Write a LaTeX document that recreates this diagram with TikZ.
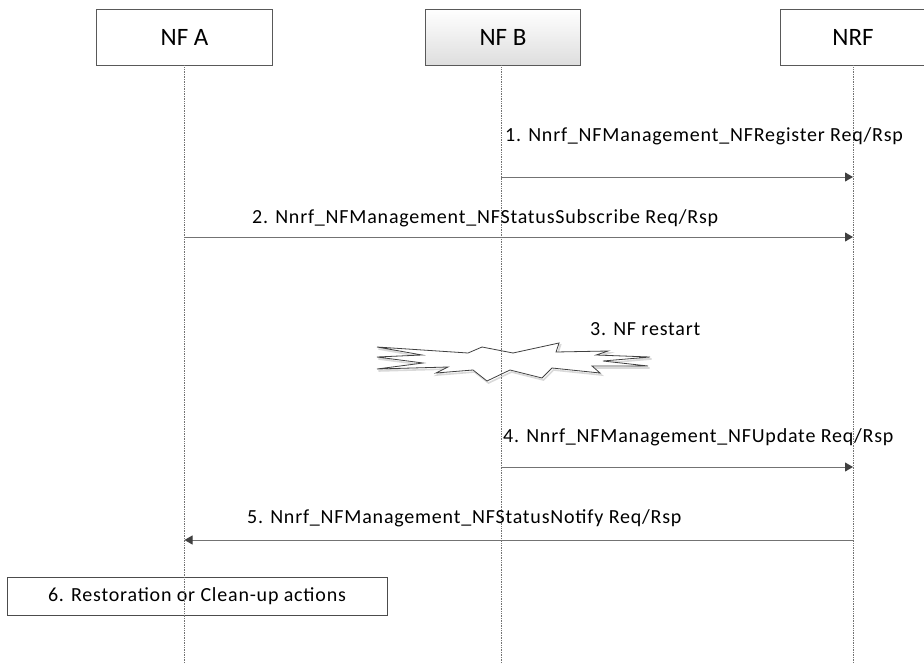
\documentclass[tikz,border=0pt]{standalone}
\usepackage{fontspec}
\setmainfont{Carlito}
\newfontfamily\lblfont[LetterSpace=4]{Carlito}
\usetikzlibrary{arrows.meta,positioning,shadows}
\begin{document}
\begin{tikzpicture}[x=1pt,y=-1pt,
	ent/.style={draw=black!65,fill=white,line width=.8pt,minimum height=56pt,
		drop shadow={shadow xshift=.6pt,shadow yshift=-1.4pt,fill=black!45,opacity=1},
		font=\fontsize{25}{30}\selectfont},
	life/.style={densely dotted,black!55,line width=.7pt},
	msg/.style={black!55,line width=.9pt,-{Triangle[length=8pt,width=9pt,color=black!75,fill=black!75]}},
	lbl/.style={anchor=base west,inner sep=0pt,font=\lblfont\fontsize{20}{24}\selectfont}]
	\useasboundingbox (0,0) rectangle (924,664);
	% cac thuc the
	\node[ent,minimum width=176pt] (nfa) at (184.5,37) {NF A};
	\node[ent,minimum width=155pt,top color=white,bottom color=black!13] (nfb) at (503,37) {NF B};
	\node[ent,minimum width=146pt] (nrf) at (853,37) {NRF};
	% buoc 6
	\node[draw=black!70,line width=.8pt,minimum width=380pt,minimum height=38pt,
		font=\lblfont\fontsize{20}{24}\selectfont] (act) at (197,596.5) {6. Restoration or Clean-up actions};
	% hinh no (restart)
	\def\burst{(377,347)--(468,353)--(482,347)--(513,353)--(559,343)--(556,352)--(608,351)--(596,355)--(650,357)--(603,361)--(648,366)--(592,366)--(600,373)--(552,368)--(542,378)--(510,370)--(487,381)--(473,370)--(436,373)--(448,367)--(377,369)--(423,363)--(377,357)--(422,355)--cycle}
	\draw[black!15,line width=1.6pt,shift={(1.5,2)}] \burst;
	\draw[black!75,line width=.8pt,fill=white] \burst;
	% duong song
	\path
	(nfb.south |- 0,664) coordinate (nfbE)
	(nfa.south |- 0,664) coordinate (nfaE)
	(nrf.south |- 0,664) coordinate (nrfE);
	\draw[life] (nfa.south)--(nfaE);
	\draw[life] (nrf.south)--(nrfE);
	\draw[life] ([xshift=-2pt]nfb.south)--([xshift=-2pt]nfbE);
	% cac diem dau mui ten
	\path
	([xshift=-2pt]nfb.south |- 0,177) coordinate (m1s)
	(nrf.south |- 0,177) coordinate (m1e)
	(nfa.south |- 0,237) coordinate (m2s)
	(nrf.south |- 0,237) coordinate (m2e)
	([xshift=-2pt]nfb.south |- 0,467) coordinate (m4s)
	(nrf.south |- 0,467) coordinate (m4e)
	(nrf.south |- 0,540) coordinate (m5s)
	(nfa.south |- 0,540) coordinate (m5e);
	\draw[msg] (m1s)--(m1e);
	\draw[msg] (m2s)--(m2e);
	\draw[msg] (m4s)--(m4e);
	\draw[msg] (m5s)--(m5e);
	\node[lbl] (l1) at (505,141) {1. Nnrf\_NFManagement\_NFRegister Req/Rsp};
	\node[lbl] (l2) at (252,223) {2. Nnrf\_NFManagement\_NFStatusSubscribe Req/Rsp};
	\node[lbl] (l3) at (590,335) {3. NF restart};
	\node[lbl] (l4) at (503,442) {4. Nnrf\_NFManagement\_NFUpdate Req/Rsp};
	\node[lbl] (l5) at (247,523) {5. Nnrf\_NFManagement\_NFStatusNotify Req/Rsp};
\end{tikzpicture}
\end{document}
